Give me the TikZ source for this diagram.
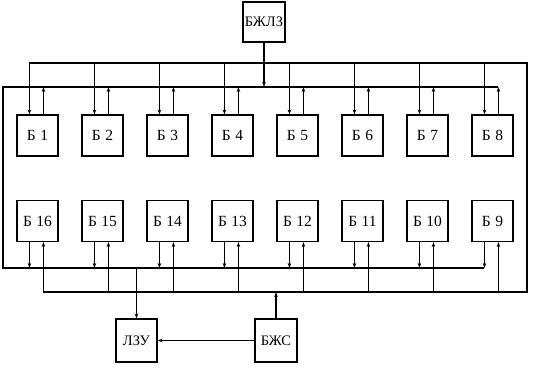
\documentclass[tikz,border=0pt]{standalone}
\usepackage{fontspec}
\setmainfont{Liberation Serif}
\usetikzlibrary{arrows.meta}
\begin{document}
\begin{tikzpicture}[x=1pt,y=-1pt,line width=1.1pt,
  blk/.style={draw,rectangle,minimum width=41pt,minimum height=41pt,inner sep=0pt,
    font=\fontsize{14.5}{17}\selectfont},
  nb/.style={blk,font=\fontsize{15.5}{18}\selectfont},
  arr/.style={-{Stealth[length=5pt,width=3.5pt]}}]
\useasboundingbox (0,0) rectangle (535,370);
% bus reference coordinates
\coordinate (A) at (0,63);
\coordinate (B) at (0,87);
\coordinate (C) at (0,268);
\coordinate (D) at (0,292);
\coordinate (L) at (3,0);
\coordinate (R) at (527,0);
% top row
\foreach \i in {1,...,8}{
  \node[nb] (t\i) at ({37.5+65*(\i-1)},135.5) {Б\hspace{4.5pt}\i};
}
% bottom row
\foreach \i [evaluate=\i as \n using int(17-\i)] in {1,...,8}{
  \node[nb] (p\i) at ({37.5+65*(\i-1)},221) {Б\hspace{4.5pt}\n};
}
\node[blk,minimum width=42pt,minimum height=40pt] (bzl) at (264,22) {БЖЛЗ};
\node[blk,minimum height=43pt] (lzu) at (136.5,340.5) {ЛЗУ};
\node[blk,minimum width=42pt,minimum height=43pt] (bzs) at (276,340.5) {БЖС};
% buses
\draw ([xshift=13pt]t1.north west |- A) -- (R |- A) -- (R |- D) -- ([xshift=27pt]p1.south west |- D);
\draw ([xshift=27pt]t8.north west |- B) -- (L |- B) -- (L |- C) -- ([xshift=13pt]p8.south west |- C);
% block connectors
\foreach \i in {1,...,8}{
  \draw[arr] ([xshift=13pt]t\i.north west |- A) -- ([xshift=13pt]t\i.north west);
  \draw[arr] ([xshift=27pt]t\i.north west) -- ([xshift=27pt]t\i.north west |- B);
  \draw[arr] ([xshift=13pt]p\i.south west) -- ([xshift=13pt]p\i.south west |- C);
  \draw[arr] ([xshift=27pt]p\i.south west |- D) -- ([xshift=27pt]p\i.south west);
}
\draw[arr] (bzl.south) -- (bzl.south |- B);
\draw[arr] (lzu.north |- C) -- (lzu.north);
\draw[arr] (bzs.north) -- (bzs.north |- D);
\draw[arr] (bzs.west) -- (lzu.east);
\end{tikzpicture}
\end{document}
